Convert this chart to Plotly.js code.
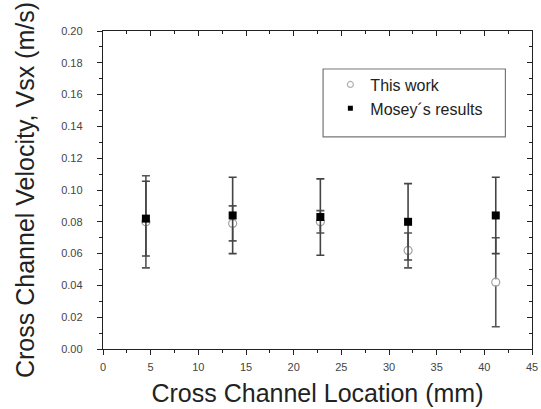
<!DOCTYPE html>
<html>
<head>
<meta charset="utf-8">
<script src="https://cdn.plot.ly/plotly-3.0.1.min.js"></script>
<style>html,body{margin:0;padding:0;background:#fff;}#chart{width:541px;height:409px;}</style>
</head>
<body>
<div id="chart"></div>
<script>
// Data
const locations = [4.5, 13.6, 22.8, 32.0, 41.2];          // mm
const thisWork = [0.080, 0.079, 0.080, 0.062, 0.042];     // m/s
const thisWorkErr = [0.029, 0.011, 0.007, 0.011, 0.028];
const mosey = [0.082, 0.084, 0.083, 0.080, 0.084];        // m/s
const moseyErr = [0.0235, 0.024, 0.024, 0.024, 0.024];
const seriesNames = ["This work", "Mosey\u00b4s results"];
const xTitle = "Cross Channel Location (mm)";
const yTitle = "Cross Channel Velocity, Vsx (m/s)";

const FONT = "Liberation Sans, Arial, sans-serif";

const traces = [
  {
    x: locations, y: thisWork, name: seriesNames[0], type: "scatter", mode: "markers", showlegend: false,
    marker: {symbol: "circle-open", size: 8, color: "#a0a0a0", line: {width: 1.2, color: "#a0a0a0"}},
    error_y: {type: "data", array: thisWorkErr, visible: true, color: "#555", thickness: 1.6, width: 4},
    hoverinfo: "skip"
  },
  {
    x: locations, y: thisWork, type: "scatter", mode: "markers", showlegend: false,
    marker: {symbol: "circle", size: 6, color: "#ffffff"}, hoverinfo: "skip"
  },
  {
    x: locations, y: mosey, name: seriesNames[1], type: "scatter", mode: "markers", showlegend: false,
    marker: {symbol: "square", size: 8, color: "#000000"},
    error_y: {type: "data", array: moseyErr, visible: true, color: "#444", thickness: 1.6, width: 4},
    hoverinfo: "skip"
  },
  // legend-only entries (smaller symbols, as in the reference legend)
  {x: [null], y: [null], name: seriesNames[0], type: "scatter", mode: "markers",
   marker: {symbol: "circle-open", size: 6, color: "#b0b0b0", line: {width: 1.2, color: "#b0b0b0"}}, hoverinfo: "skip"},
  {x: [null], y: [null], name: seriesNames[1], type: "scatter", mode: "markers",
   marker: {symbol: "square", size: 5, color: "#000000"}, hoverinfo: "skip"},
  {x: [null], y: [null], xaxis: "x2", yaxis: "y2", showlegend: false, hoverinfo: "skip", mode: "markers"}
];

const tickFont = {family: FONT, size: 11, color: "#444"};
const layout = {
  width: 541, height: 409,
  margin: {l: 102.5, r: 8.5, t: 31, b: 60},
  paper_bgcolor: "#ffffff", plot_bgcolor: "#ffffff",
  showlegend: true,
  legend: {
    x: 0.53, y: 0.885, xanchor: "left", yanchor: "top",
    bgcolor: "rgba(0,0,0,0)", borderwidth: 0,
    font: {family: FONT, size: 16, color: "#222"},
    tracegroupgap: 0
  },
  shapes: [
    {type: "rect", xref: "paper", yref: "paper", x0: 0.513, x1: 0.938, y0: 0.667, y1: 0.8805,
     line: {color: "#777", width: 1.2}, fillcolor: "rgba(0,0,0,0)"}
  ],
  xaxis: {
    range: [0, 45], dtick: 5, tick0: 0,
    ticks: "outside", ticklen: 5, tickwidth: 1, tickcolor: "#222",
    minor: {dtick: 2.5, ticks: "outside", ticklen: 3, tickcolor: "#222"},
    showline: true, linecolor: "#222", linewidth: 1.2, mirror: true,
    showgrid: false, zeroline: false,
    tickfont: tickFont, ticklabelstandoff: 3,
    title: {text: xTitle, font: {family: FONT, size: 25, color: "#222"}, standoff: 12}
  },
  yaxis: {
    range: [0, 0.2], dtick: 0.02, tick0: 0, tickformat: ".2f",
    ticks: "outside", ticklen: 5, tickwidth: 1, tickcolor: "#222",
    minor: {dtick: 0.01, ticks: "outside", ticklen: 3, tickcolor: "#222"},
    showline: true, linecolor: "#222", linewidth: 1.2, mirror: true,
    showgrid: false, zeroline: false,
    tickfont: tickFont, ticklabelstandoff: 12,
    title: {text: yTitle, font: {family: FONT, size: 25, color: "#222"}, standoff: 19}
  },
  xaxis2: {
    overlaying: "x", side: "top", range: [0, 45], dtick: 5, tick0: 0,
    ticks: "inside", ticklen: 5, tickcolor: "#222",
    minor: {dtick: 2.5, ticks: "inside", ticklen: 3, tickcolor: "#222"},
    showticklabels: false, showline: false, showgrid: false, zeroline: false
  },
  yaxis2: {
    overlaying: "y", side: "right", range: [0, 0.2], dtick: 0.02, tick0: 0,
    ticks: "inside", ticklen: 5, tickcolor: "#222",
    minor: {dtick: 0.01, ticks: "inside", ticklen: 3, tickcolor: "#222"},
    showticklabels: false, showline: false, showgrid: false, zeroline: false
  }
};

Plotly.newPlot("chart", traces, layout, {staticPlot: true, displayModeBar: false});
</script>
</body>
</html>
